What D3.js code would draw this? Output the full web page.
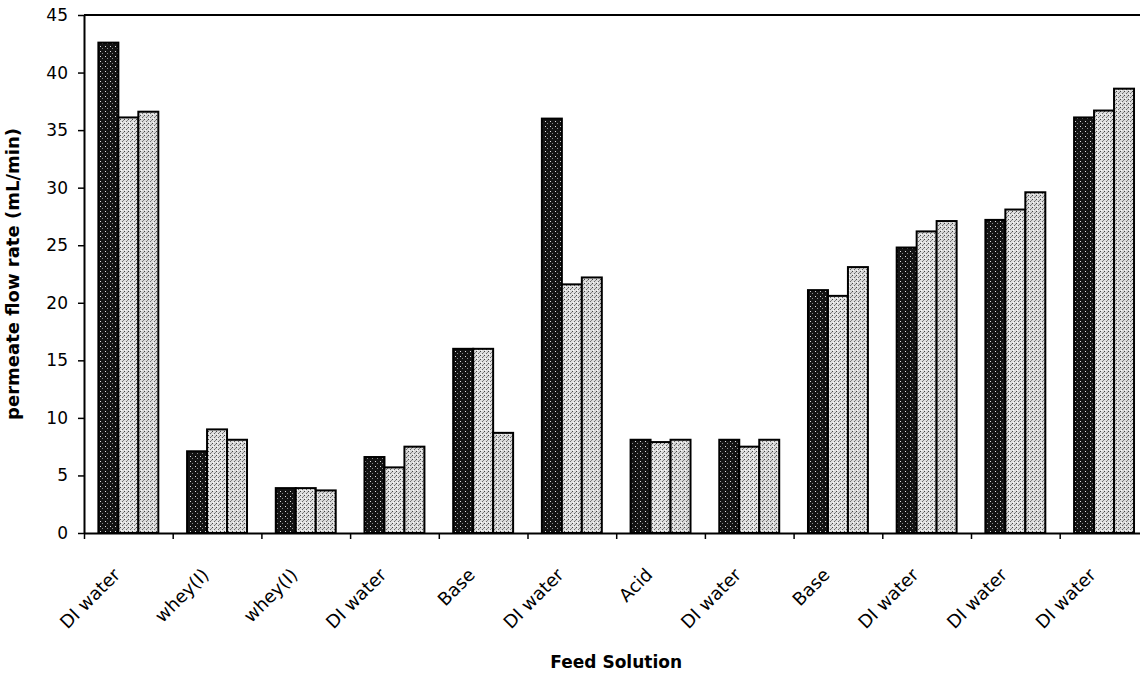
<!DOCTYPE html>
<html>
<head>
<meta charset="utf-8">
<script src="https://cdn.jsdelivr.net/npm/d3@7"></script>
<style>
    body { margin: 0; background: #fff; }
    svg { display: block; }
</style>
</head>
<body>
<div class="chart-flow"></div>
<script>
// feed solutions, in the order they were run
let categories = ['DI water', 'whey(I)', 'whey(I)', 'DI water', 'Base', 'DI water',
    'Acid', 'DI water', 'Base', 'DI water', 'DI water', 'DI water'];

// permeate flow rate (mL/min), three runs per feed
let run1 = [42.6, 7.1, 3.9, 6.6, 16.0, 36.0, 8.1, 8.1, 21.1, 24.8, 27.2, 36.1];
let run2 = [36.1, 9.0, 3.9, 5.7, 16.0, 21.6, 7.9, 7.5, 20.6, 26.2, 28.1, 36.7];
let run3 = [36.6, 8.1, 3.7, 7.5, 8.7, 22.2, 8.1, 8.1, 23.1, 27.1, 29.6, 38.6];

let yTicks = [0, 5, 10, 15, 20, 25, 30, 35, 40, 45];

let series = [run1, run2, run3];
let fills = ['url(#speckDark)', 'url(#speckLight)', 'url(#speckLight2)'];

let margins = {top: 15, right: 0, bottom: 144, left: 84},
    baseWidth = 1140, baseHeight = 677,
    plotWidth = 1064.4,  // axis runs a little past the page edge, as in the scan
    plotHeight = baseHeight - margins.top - margins.bottom;

let svg = d3.select('.chart-flow').append('svg')
    .attr('width', baseWidth)
    .attr('height', baseHeight);

// halftone-ish fills
let defs = svg.append('defs');
let dark = defs.append('pattern').attr('id', 'speckDark')
    .attr('patternUnits', 'userSpaceOnUse').attr('width', 5).attr('height', 5);
dark.append('rect').attr('width', 5).attr('height', 5).attr('fill', '#141414');
dark.append('rect').attr('x', 1).attr('y', 1).attr('width', 1).attr('height', 1).attr('fill', '#e0e0e0');
dark.append('rect').attr('x', 3).attr('y', 3).attr('width', 1).attr('height', 1).attr('fill', '#8a8a8a');

[['speckLight', '#dedede'], ['speckLight2', '#d8d8d8']].forEach(function(p) {
    let pat = defs.append('pattern').attr('id', p[0])
        .attr('patternUnits', 'userSpaceOnUse').attr('width', 4).attr('height', 4);
    pat.append('rect').attr('width', 4).attr('height', 4).attr('fill', p[1]);
    pat.append('rect').attr('x', 0).attr('y', 0).attr('width', 1).attr('height', 1).attr('fill', '#444');
    pat.append('rect').attr('x', 2).attr('y', 2).attr('width', 1).attr('height', 1).attr('fill', '#666');
    pat.append('rect').attr('x', 3).attr('y', 1).attr('width', 1).attr('height', 1).attr('fill', '#888');
    pat.append('rect').attr('x', 1).attr('y', 3).attr('width', 1).attr('height', 1).attr('fill', '#fafafa');
});

let chartLayer = svg.append('g')
    .attr('transform', 'translate(' + margins.left + ', ' + margins.top + ')');

let idx = d3.range(categories.length);
let x = d3.scaleBand().domain(idx).range([0, plotWidth]),
    xSub = d3.scaleBand().domain([0, 1, 2]).range([0, x.bandwidth()]).paddingOuter(0.72),
    xEdge = d3.scaleLinear().domain([0, categories.length]).range([0, plotWidth]),
    y = d3.scaleLinear().domain([0, 45]).range([plotHeight, 0]);

// top frame line
chartLayer.append('line')
    .attr('x1', 0).attr('x2', plotWidth)
    .attr('y1', 0).attr('y2', 0)
    .attr('stroke', '#000').attr('stroke-width', 2);

// bars
series.forEach(function(values, s) {
    chartLayer.append('g').selectAll('rect')
        .data(values)
        .enter().append('rect')
        .attr('x', function(d, i) { return x(i) + xSub(s); })
        .attr('y', function(d) { return y(d); })
        .attr('width', xSub.bandwidth())
        .attr('height', function(d) { return plotHeight - y(d); })
        .attr('fill', fills[s])
        .attr('stroke', '#000')
        .attr('stroke-width', 2);
});

// y axis
let yAxisGroup = chartLayer.append('g')
    .call(d3.axisLeft(y).tickValues(yTicks).tickSize(6).tickSizeOuter(0).tickPadding(10));
yAxisGroup.select('.domain').attr('stroke-width', 2);
yAxisGroup.selectAll('line').attr('stroke-width', 1.5);
yAxisGroup.selectAll('text')
    .attr('font-family', 'DejaVu Sans')
    .attr('font-size', 17)
    .attr('fill', '#000');

// x axis: tick marks on the category edges
let xAxisGroup = chartLayer.append('g')
    .attr('transform', 'translate(0,' + plotHeight + ')')
    .call(d3.axisBottom(xEdge).tickValues(d3.range(0, categories.length + 1)).tickFormat('').tickSize(6).tickSizeOuter(0));
xAxisGroup.select('.domain').attr('stroke-width', 2);
xAxisGroup.selectAll('line').attr('stroke-width', 1.5);

// x labels, slanted
let xLabelGroup = chartLayer.append('g')
    .attr('transform', 'translate(0,' + plotHeight + ')')
    .call(d3.axisBottom(x).tickSize(0).tickFormat(function(i) { return categories[i]; }));
xLabelGroup.select('.domain').remove();
xLabelGroup.selectAll('text')
    .attr('font-family', 'DejaVu Sans')
    .attr('font-size', 18)
    .attr('fill', '#000')
    .attr('text-anchor', 'end')
    .attr('dy', null)
    .attr('transform', 'translate(-7, 43) rotate(-45)')
    .attr('x', 0)
    .attr('y', 0);

// axis titles
svg.append('text')
    .text('permeate flow rate (mL/min)')
    .attr('transform', 'translate(19, ' + (margins.top + plotHeight / 2) + ') rotate(-90)')
    .attr('text-anchor', 'middle')
    .attr('font-family', 'DejaVu Sans')
    .attr('font-weight', 'bold')
    .attr('font-size', 18);

svg.append('text')
    .text('Feed Solution')
    .attr('x', margins.left + plotWidth / 2)
    .attr('y', 668)
    .attr('text-anchor', 'middle')
    .attr('font-family', 'DejaVu Sans')
    .attr('font-weight', 'bold')
    .attr('font-size', 17);
</script>
</body>
</html>
